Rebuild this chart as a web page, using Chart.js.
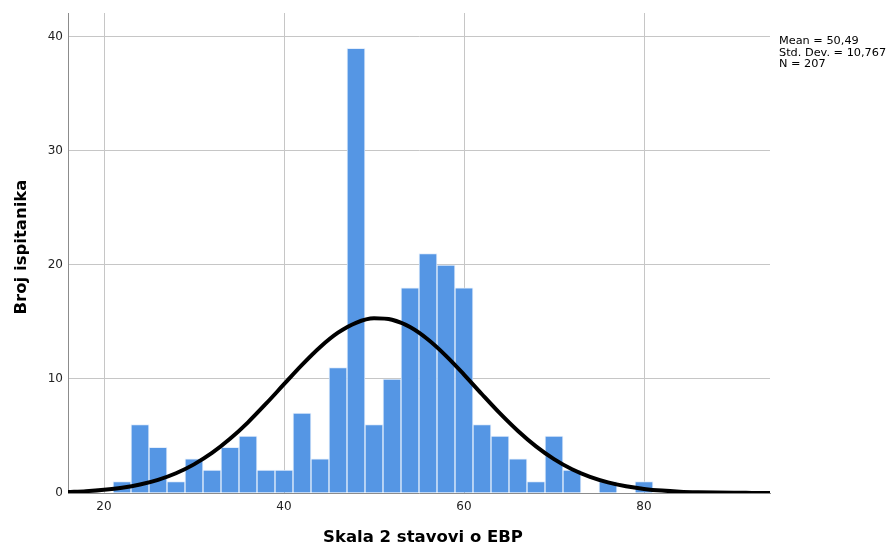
<!DOCTYPE html>
<html>
<head>
<meta charset="utf-8">
<script src="https://cdn.jsdelivr.net/npm/chart.js@4.4.0/dist/chart.umd.min.js"></script>
<style>
  html, body { margin: 0; padding: 0; background: #fff; }
  #wrap { width: 889px; height: 546px; }
</style>
</head>
<body>
<div id="wrap"><canvas id="hist"></canvas></div>
<script>
// histogram bins (width 2), centers and counts
var binCenters = [22, 24, 26, 28, 30, 32, 34, 36, 38, 40, 42, 44, 46, 48, 50,
                  52, 54, 56, 58, 60, 62, 64, 66, 68, 70, 72, 74, 76, 78, 80]
var counts = [1, 6, 4, 1, 3, 2, 4, 5, 2, 2, 7, 3, 11, 39, 6,
              10, 18, 21, 20, 18, 6, 5, 3, 1, 5, 2, 0, 1, 0, 1]

// normal curve
var curveX = [16, 18, 20, 22, 24, 26, 28, 30, 32, 34, 36, 38, 40, 42, 44, 46, 48, 50, 52, 54,
              56, 58, 60, 62, 64, 66, 68, 70, 72, 74, 76, 78, 80, 82, 84, 86, 88, 90, 92, 94]
var curveY = [0.09, 0.16, 0.28, 0.46, 0.74, 1.15, 1.73, 2.51, 3.51, 4.75, 6.2, 7.83, 9.54, 11.24,
              12.79, 14.06, 14.93, 15.32, 15.19, 14.55, 13.46, 12.03, 10.39, 8.66, 6.98, 5.44,
              4.09, 2.97, 2.08, 1.41, 0.93, 0.59, 0.36, 0.21, 0.12, 0.07, 0.04, 0.02, 0.01, 0]

var xTicks = [20, 40, 60, 80]
var yTicks = [0, 10, 20, 30, 40]
var stats = ['Mean = 50,49', 'Std. Dev. = 10,767', 'N = 207']
var xTitle = 'Skala 2 stavovi o EBP'
var yTitle = 'Broj ispitanika'

var barData = binCenters.map(function (x, i) { return { x: x, y: counts[i] || null } })
var lineData = curveX.map(function (x, i) { return { x: x, y: curveY[i] } })

var titles = {
  id: 'titles',
  afterDraw: function (chart) {
    var c = chart.ctx
    var area = chart.chartArea
    c.save()
    c.fillStyle = '#000'
    c.textBaseline = 'middle'
    c.textAlign = 'center'
    c.font = 'bold 16.5px "DejaVu Sans"'
    c.fillText(xTitle, (area.left + area.right) / 2 + 4, 538)
    c.save()
    c.translate(22, 247)
    c.rotate(-Math.PI / 2)
    c.fillText(yTitle, 0, 0)
    c.restore()
    c.textAlign = 'left'
    c.font = '11.3px "DejaVu Sans"'
    stats.forEach(function (s, i) {
      c.fillText(s, area.right + 9, 41 + i * 11.7)
    })
    c.restore()
  }
}

var ctx = document.getElementById('hist').getContext('2d')
var chart = new Chart(ctx, {
  type: 'bar',
  data: {
    datasets: [
      {
        type: 'line',
        data: lineData,
        borderColor: '#000',
        borderWidth: 4,
        pointRadius: 0,
        cubicInterpolationMode: 'monotone',
        order: 0,
      },
      {
        type: 'bar',
        data: barData,
        backgroundColor: '#5596e4',
        borderColor: 'rgba(225, 236, 252, 0.9)',
        borderWidth: 1,
        borderSkipped: 'bottom',
        barPercentage: 1,
        categoryPercentage: 1,
        order: 1,
      },
    ],
  },
  options: {
    responsive: true,
    maintainAspectRatio: false,
    animation: false,
    layout: { padding: { left: 0, right: 119, top: 13, bottom: 0 } },
    plugins: { legend: { display: false }, tooltip: { enabled: false } },
    scales: {
      x: {
        type: 'linear',
        min: 16,
        max: 94,
        offset: false,
        afterFit: function (s) { s.height = 53 },
        afterBuildTicks: function (s) { s.ticks = xTicks.map(function (v) { return { value: v } }) },
        grid: { color: '#c6c6c6', lineWidth: 1, drawTicks: false, offset: false },
        border: { color: '#8c8c8c', width: 1 },
        ticks: { color: '#222', padding: 7, font: { family: 'DejaVu Sans', size: 12 }, maxRotation: 0 },
      },
      y: {
        min: 0,
        max: 42.1,
        afterFit: function (s) { s.width = 68 },
        afterBuildTicks: function (s) { s.ticks = yTicks.map(function (v) { return { value: v } }) },
        grid: { color: '#c6c6c6', lineWidth: 1, drawTicks: false },
        border: { color: '#8c8c8c', width: 1 },
        ticks: { color: '#222', padding: 5, font: { family: 'DejaVu Sans', size: 12 } },
      },
    },
  },
  plugins: [titles],
})
</script>
</body>
</html>
